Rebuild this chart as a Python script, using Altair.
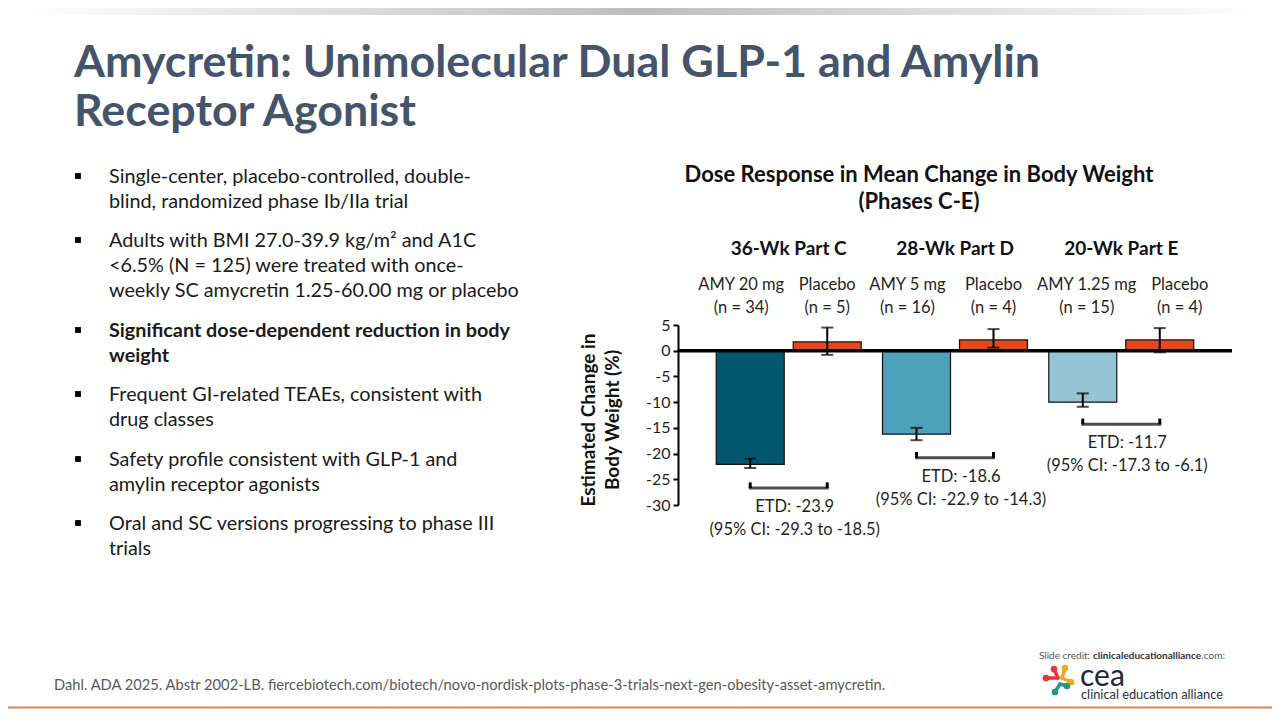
import altair as alt
import pandas as pd

# ---------------- data ----------------
groups = ["36-Wk Part C", "28-Wk Part D", "20-Wk Part E"]
arms = ["AMY", "Placebo"]
arm_names = ["AMY 20 mg", "Placebo", "AMY 5 mg", "Placebo", "AMY 1.25 mg", "Placebo"]
arm_n = ["(n = 34)", "(n = 5)", "(n = 16)", "(n = 4)", "(n = 15)", "(n = 4)"]
change = [-22.1, 1.7, -16.2, 2.1, -10.0, 2.1]
ci_low = [-22.8, -0.8, -17.4, 0.6, -10.9, -0.3]
ci_high = [-21.0, 4.5, -15.0, 4.2, -8.3, 4.4]
etd_text = ["ETD: -23.9", "ETD: -18.6", "ETD: -11.7"]
etd_ci = ["(95% CI: -29.3 to -18.5)", "(95% CI: -22.9 to -14.3)", "(95% CI: -17.3 to -6.1)"]
bracket_level = [-26.7, -20.8, -14.3]
bracket_tip = [-25.6, -19.7, -13.2]
y_ticks = [5, 0, -5, -10, -15, -20, -25, -30]

title_lines = ["Amycretin: Unimolecular Dual GLP-1 and Amylin", "Receptor Agonist"]
chart_title = ["Dose Response in Mean Change in Body Weight", "(Phases C-E)"]
y_title = ["Estimated Change in", "Body Weight (%)"]
bullets = [
    ["Single-center, placebo-controlled, double-", "blind, randomized phase Ib/IIa trial"],
    ["Adults with BMI 27.0-39.9 kg/m\u00b2 and A1C", "<6.5% (N = 125) were treated with once-",
     "weekly SC amycretin 1.25-60.00 mg or placebo"],
    ["Significant dose-dependent reduction in body", "weight"],
    ["Frequent GI-related TEAEs, consistent with", "drug classes"],
    ["Safety profile consistent with GLP-1 and", "amylin receptor agonists"],
    ["Oral and SC versions progressing to phase III", "trials"],
]
bold_bullet = 2
footer = ("Dahl. ADA 2025. Abstr 2002-LB. fiercebiotech.com/biotech/novo-nordisk-plots-"
          "phase-3-trials-next-gen-obesity-asset-amycretin.")
credit = ["Slide credit:", "clinicaleducationalliance", ".com:"]
logo_word = "cea"
logo_sub = "clinical education alliance"

# ---------------- styles ----------------
arm_ids = [f"{g}|{a}" for g in groups for a in arms]
bar_colors = ["#03576E", "#E2491F", "#4EA1BB", "#E2491F", "#95C5D4", "#E2491F"]
FONT = "Lato"
TITLE_COLOR = "#44546A"
TXT = "#1f1f1f"

# plot area sits at page (678, 325); helpers convert page pixels to plot pixels
def px(X):
    return X - 678

def py(Y):
    return Y - 325

bars_df = pd.DataFrame({
    "group": [g for g in groups for _ in arms],
    "arm": arms * len(groups),
    "arm_id": arm_ids,
    "arm_name": arm_names,
    "arm_n": arm_n,
    "change": change,
    "ci_low": ci_low,
    "ci_high": ci_high,
})
etd_df = pd.DataFrame({
    "group": groups,
    "etd": etd_text,
    "etd_ci": etd_ci,
    "bracket_level": bracket_level,
    "bracket_tip": bracket_tip,
})
ends_df = etd_df.merge(pd.DataFrame({"arm": arms}), how="cross")
one = pd.DataFrame({"k": [0]})

x_enc = alt.X("group:N", sort=groups,
              scale=alt.Scale(domain=groups, paddingInner=0.128, paddingOuter=0.23),
              axis=None)
xo_enc = alt.XOffset("arm:N", sort=arms,
                     scale=alt.Scale(domain=arms, paddingInner=0.117, paddingOuter=0))
y_scale = alt.Scale(domain=[-30, 5], nice=False, zero=False)
y_axis = alt.Axis(values=y_ticks, title=None, grid=False, domainColor="black",
                  domainWidth=2, tickColor="black", tickWidth=2, tickSize=5,
                  labelFont=FONT, labelFontSize=16, labelColor=TXT,
                  labelPadding=3, labelExpr="'' + datum.value")

def yq(field):
    return alt.Y(field, scale=y_scale, axis=y_axis)

bars = alt.Chart(bars_df).mark_bar(stroke="#111111", strokeWidth=1.2).encode(
    x=x_enc, xOffset=xo_enc,
    y=yq("change:Q"),
    y2=alt.datum(0),
    color=alt.Color("arm_id:N", scale=alt.Scale(domain=arm_ids, range=bar_colors), legend=None),
)

zero_line = alt.Chart(one).transform_calculate(zero="0").mark_rule(
    color="black", strokeWidth=3.5).encode(y=yq("zero:Q"))

err = alt.Chart(bars_df).mark_rule(color="black", strokeWidth=2).encode(
    x=x_enc, xOffset=xo_enc, y=yq("ci_low:Q"), y2="ci_high:Q")
cap_lo = alt.Chart(bars_df).mark_tick(color="black", orient="horizontal", size=12, thickness=2).encode(
    x=x_enc, xOffset=xo_enc, y=yq("ci_low:Q"))
cap_hi = alt.Chart(bars_df).mark_tick(color="black", orient="horizontal", size=12, thickness=2).encode(
    x=x_enc, xOffset=xo_enc, y=yq("ci_high:Q"))

bracket = alt.Chart(etd_df).mark_tick(color="black", orient="horizontal", size=80, thickness=3).encode(
    x=x_enc, y=yq("bracket_level:Q"))
bracket_ends = alt.Chart(ends_df).mark_rule(color="black", strokeWidth=3).encode(
    x=x_enc, xOffset=xo_enc, y=yq("bracket_level:Q"), y2="bracket_tip:Q")

etd_lbl = alt.Chart(etd_df).mark_text(font=FONT, fontSize=16.5, color=TXT, dy=24, dx=6,
                                      baseline="alphabetic").encode(
    x=x_enc, y=yq("bracket_level:Q"), text="etd:N")
etd_ci_lbl = alt.Chart(etd_df).mark_text(font=FONT, fontSize=16.5, color=TXT, dy=47, dx=6,
                                         baseline="alphabetic").encode(
    x=x_enc, y=yq("bracket_level:Q"), text="etd_ci:N")

group_hdr = alt.Chart(etd_df).mark_text(font=FONT, fontSize=19, fontWeight="bold", color="#111111",
                                        baseline="alphabetic").encode(
    x=x_enc, y=alt.value(py(255)), text="group:N")


def arm_text(field, ypix):
    layers = []
    last = groups[-1]
    for arm, cond, shift in [
        ("AMY", f"datum.group != '{last}'", -9),
        ("AMY", f"datum.group == '{last}'", 4),
        ("Placebo", f"datum.group != '{last}'", 0),
        ("Placebo", f"datum.group == '{last}'", 20),
    ]:
        layers.append(
            alt.Chart(bars_df).transform_filter(f"datum.arm == '{arm}' && {cond}")
            .mark_text(font=FONT, fontSize=16.5, color=TXT, baseline="alphabetic", dx=shift)
            .encode(x=x_enc, xOffset=xo_enc, y=alt.value(py(ypix)), text=f"{field}:N"))
    return layers


arm_lbl = arm_text("arm_name", 290)
n_lbl = arm_text("arm_n", 313)

chart_ttl = alt.Chart(one).mark_text(text=chart_title, font=FONT, fontSize=22, fontWeight="bold",
                                     color="#111111", align="center", baseline="alphabetic",
                                     lineHeight=27).encode(
    x=alt.value(px(919)), y=alt.value(py(182)))
y_ttl = alt.Chart(one).mark_text(text=y_title, font=FONT, fontSize=19, fontWeight="bold",
                                 color="#111111", align="center", baseline="middle",
                                 angle=270, lineHeight=24).encode(
    x=alt.value(px(589)), y=alt.value(py(420)))

# ---------------- slide decorations ----------------
top_band = alt.Chart(one).mark_rect(
    color=alt.LinearGradient(gradient="linear", x1=0, x2=1, y1=0, y2=0,
                             stops=[alt.GradientStop(color="#ffffff", offset=0),
                                    alt.GradientStop(color="#bdbdbd", offset=0.5),
                                    alt.GradientStop(color="#ffffff", offset=1)])
).encode(x=alt.value(px(20)), x2=alt.value(px(1262)), y=alt.value(py(0)), y2=alt.value(py(15)))

slide_title = alt.Chart(one).mark_text(text=title_lines, font=FONT, fontSize=44.8, fontWeight="bold",
                                       color=TITLE_COLOR, align="left", baseline="alphabetic",
                                       lineHeight=49).encode(
    x=alt.value(px(74)), y=alt.value(py(76.5)))

bullet_layers = []
bullet_base = [182.5, 246.5, 336.5, 400.5, 465.5, 529.5]
for i, lines in enumerate(bullets):
    bullet_layers.append(alt.Chart(one).mark_square(size=34, color="black", opacity=1, filled=True).encode(
        x=alt.value(px(78)), y=alt.value(py(bullet_base[i] - 6.5))))
    bullet_layers.append(alt.Chart(one).mark_text(
        text=lines, font=FONT, fontSize=19.8, fontWeight="bold" if i == bold_bullet else "normal",
        color="#1a1a1a", align="left", baseline="alphabetic", lineHeight=25.3).encode(
        x=alt.value(px(109)), y=alt.value(py(bullet_base[i]))))

footer_txt = alt.Chart(one).mark_text(text=footer, font=FONT, fontSize=14.7, color="#595959",
                                      align="left", baseline="alphabetic").encode(
    x=alt.value(px(54)), y=alt.value(py(690)))
orange_line = alt.Chart(one).mark_rule(color="#EE7E50", strokeWidth=2).encode(
    x=alt.value(px(0)), x2=alt.value(px(1280)), y=alt.value(py(707.5)))

credit_layers = [
    alt.Chart(one).mark_text(text=credit[0], font=FONT, fontSize=10, color="#555555", align="left",
                             baseline="alphabetic").encode(x=alt.value(px(1039)), y=alt.value(py(659))),
    alt.Chart(one).mark_text(text=credit[1], font=FONT, fontSize=10, fontWeight="bold", color="#333333",
                             align="left", baseline="alphabetic").encode(x=alt.value(px(1093)), y=alt.value(py(659))),
    alt.Chart(one).mark_text(text=credit[2], font=FONT, fontSize=10, color="#555555", align="left",
                             baseline="alphabetic").encode(x=alt.value(px(1201.5)), y=alt.value(py(659))),
    alt.Chart(one).mark_text(text=logo_word, font=FONT, fontSize=30, color="#23263B", align="left",
                             baseline="alphabetic").encode(x=alt.value(px(1080)), y=alt.value(py(686))),
    alt.Chart(one).mark_text(text=logo_sub, font=FONT, fontSize=12.8, color="#2B2E45", align="left",
                             baseline="alphabetic").encode(x=alt.value(px(1081)), y=alt.value(py(698.5))),
]

# logo icon (molecule-like glyph)
logo_parts = []
for (x1, y1, x2, y2, c) in [
    (1054, 669, 1058, 678, "#E8343F"), (1046, 678, 1058, 678, "#E8343F"),
    (1065, 668, 1062, 678, "#F4A81D"), (1071, 682, 1062, 678, "#F4A81D"),
    (1055, 692, 1060, 684, "#1E9A8A"), (1067, 686, 1060, 684, "#1E9A8A"),
]:
    logo_parts.append(alt.Chart(one).mark_rule(color=c, strokeWidth=3.5, strokeCap="round").encode(
        x=alt.value(px(x1)), y=alt.value(py(y1)), x2=alt.value(px(x2)), y2=alt.value(py(y2))))
    logo_parts.append(alt.Chart(one).mark_circle(color=c, size=45, opacity=1).encode(
        x=alt.value(px(x1)), y=alt.value(py(y1))))

chart = alt.layer(
    top_band, bars, zero_line, err, cap_lo, cap_hi, bracket, bracket_ends,
    etd_lbl, etd_ci_lbl, group_hdr, *arm_lbl, *n_lbl, chart_ttl, y_ttl,
    slide_title, *bullet_layers, footer_txt, orange_line, *credit_layers, *logo_parts,
).properties(
    width=554, height=180,
    padding={"left": 670, "top": 317, "right": 40, "bottom": 205},
    autosize=alt.AutoSizeParams(type="none"),
    background="white",
).configure_view(stroke=None)

chart.save("out.html", embed_options={"renderer": "svg", "actions": False})
